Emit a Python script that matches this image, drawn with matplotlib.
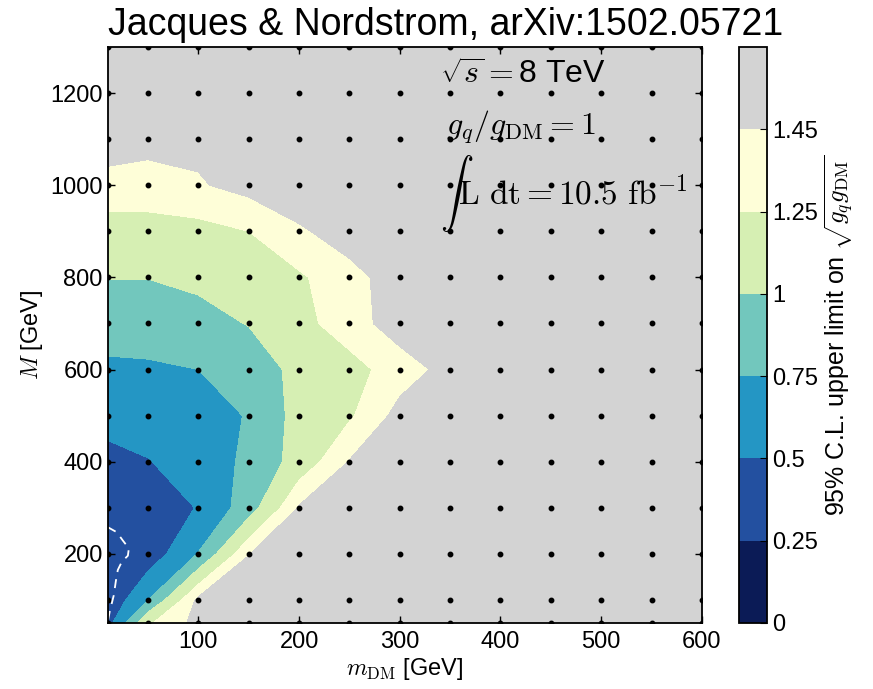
import numpy as np
import matplotlib
matplotlib.use("Agg")
import matplotlib.pyplot as plt

plt.rcParams['font.family'] = ['Liberation Sans', 'DejaVu Sans']
plt.rcParams['mathtext.fontset'] = 'cm'

# grid of the scan (dark matter mass, mediator mass) in GeV
m_dm = [10, 50, 100, 150, 200, 250, 300, 350, 400, 450, 500, 550, 600]
M_med = [50, 100, 200, 300, 400, 500, 600, 700, 800, 900, 1000, 1100, 1200, 1300]

# 95% CL upper limit on sqrt(g_q g_DM), rows = M_med, cols = m_dm
limit = np.array([
    [0.40, 1.22, 1.52, 1.70, 1.80, 1.90, 1.90, 1.90, 1.90, 1.90, 1.90, 1.90, 1.90],
    [0.30, 0.75, 1.50, 1.70, 1.80, 1.90, 1.90, 1.90, 1.90, 1.90, 1.90, 1.90, 1.90],
    [0.32, 0.35, 0.76, 1.44, 1.70, 1.85, 1.90, 1.90, 1.90, 1.90, 1.90, 1.90, 1.90],
    [0.36, 0.38, 0.51, 0.88, 1.47, 1.70, 1.85, 1.90, 1.90, 1.90, 1.90, 1.90, 1.90],
    [0.44, 0.49, 0.61, 0.80, 1.10, 1.46, 1.70, 1.85, 1.90, 1.90, 1.90, 1.90, 1.90],
    [0.57, 0.61, 0.68, 0.76, 1.09, 1.22, 1.52, 1.75, 1.90, 1.90, 1.90, 1.90, 1.90],
    [0.70, 0.715, 0.75, 0.86, 1.07, 1.17, 1.35, 1.52, 1.75, 1.90, 1.90, 1.90, 1.90],
    [0.87, 0.87, 0.92, 1.01, 1.18, 1.36, 1.55, 1.75, 1.90, 1.90, 1.90, 1.90, 1.90],
    [1.005, 1.005, 1.05, 1.13, 1.22, 1.38, 1.55, 1.75, 1.90, 1.90, 1.90, 1.90, 1.90],
    [1.15, 1.14, 1.18, 1.25, 1.42, 1.55, 1.70, 1.85, 1.90, 1.90, 1.90, 1.90, 1.90],
    [1.38, 1.40, 1.43, 1.52, 1.60, 1.70, 1.80, 1.90, 1.90, 1.90, 1.90, 1.90, 1.90],
    [1.55, 1.49, 1.50, 1.60, 1.70, 1.80, 1.90, 1.90, 1.90, 1.90, 1.90, 1.90, 1.90],
    [1.70, 1.65, 1.65, 1.70, 1.80, 1.90, 1.90, 1.90, 1.90, 1.90, 1.90, 1.90, 1.90],
    [1.80, 1.75, 1.75, 1.80, 1.90, 1.90, 1.90, 1.90, 1.90, 1.90, 1.90, 1.90, 1.90],
])

# white dashed curve in the lower left corner
dash_m = [10, 19, 25, 31, 30, 24, 20, 18, 16, 12, 10]
dash_M = [258, 247, 229, 212, 196, 183, 165, 140, 110, 75, 52]

levels = [0, 0.25, 0.5, 0.75, 1.0, 1.25, 1.45, 3.0]
tick_labels = ['0', '0.25', '0.5', '0.75', '1', '1.25', '1.45']
colors = ['#0b1b56', '#2350a0', '#2496c4', '#72c7bd', '#d6efb3', '#fefed8', '#d3d3d3']

fig = plt.figure(figsize=(8.73, 6.89), dpi=100)
ax = fig.add_axes([0.1234, 0.0958, 0.6806, 0.836])

cs = ax.contourf(m_dm, M_med, limit, levels=levels, colors=colors)
mm, MM = np.meshgrid(m_dm, M_med)
ax.plot(mm.ravel(), MM.ravel(), 'ko', ms=3.2, ls='none')
ax.plot(dash_m, dash_M, color='white', lw=1.3, ls=(0, (5, 4)))

ax.set_xlim(10, 600)
ax.set_ylim(50, 1300)
ax.set_xticks([100, 200, 300, 400, 500, 600])
ax.set_yticks([200, 400, 600, 800, 1000, 1200])
ax.tick_params(direction='in', top=True, right=True, length=5, width=1, labelsize=17)
ax.tick_params(axis='x', pad=6)
for s in ax.spines.values():
    s.set_linewidth(1.3)

ax.set_xlabel(r'$m_{\rm DM}$ [GeV]', fontsize=17, labelpad=2)
ax.set_ylabel(r'$M$ [GeV]', fontsize=17, labelpad=4)

ax.text(0.56, 0.95, r'$\sqrt{s}=$8 TeV', transform=ax.transAxes, fontsize=23, va='center')
ax.text(0.57, 0.86, r'$g_q/g_{\rm DM}=1$', transform=ax.transAxes, fontsize=23, va='center')
ax.text(0.56, 0.745, r'$\int\mathrm{L\ dt}=10.5\ \mathrm{fb}^{-1}$', transform=ax.transAxes,
        fontsize=24, va='center')

cax = fig.add_axes([0.8465, 0.0958, 0.032, 0.836])
cb = fig.colorbar(cs, cax=cax, ticks=levels[:-1])
cb.ax.set_yticklabels(tick_labels)
cb.ax.tick_params(direction='in', length=5, labelsize=17)
cb.outline.set_linewidth(1.3)
cb.set_label(r'95% C.L. upper limit on $\sqrt{g_q g_{\rm DM}}$', fontsize=18, labelpad=4)

fig.text(0.51, 0.99, 'Jacques & Nordstrom, arXiv:1502.05721', ha='center', va='top', fontsize=27)

fig.savefig('out.png', dpi=100)
